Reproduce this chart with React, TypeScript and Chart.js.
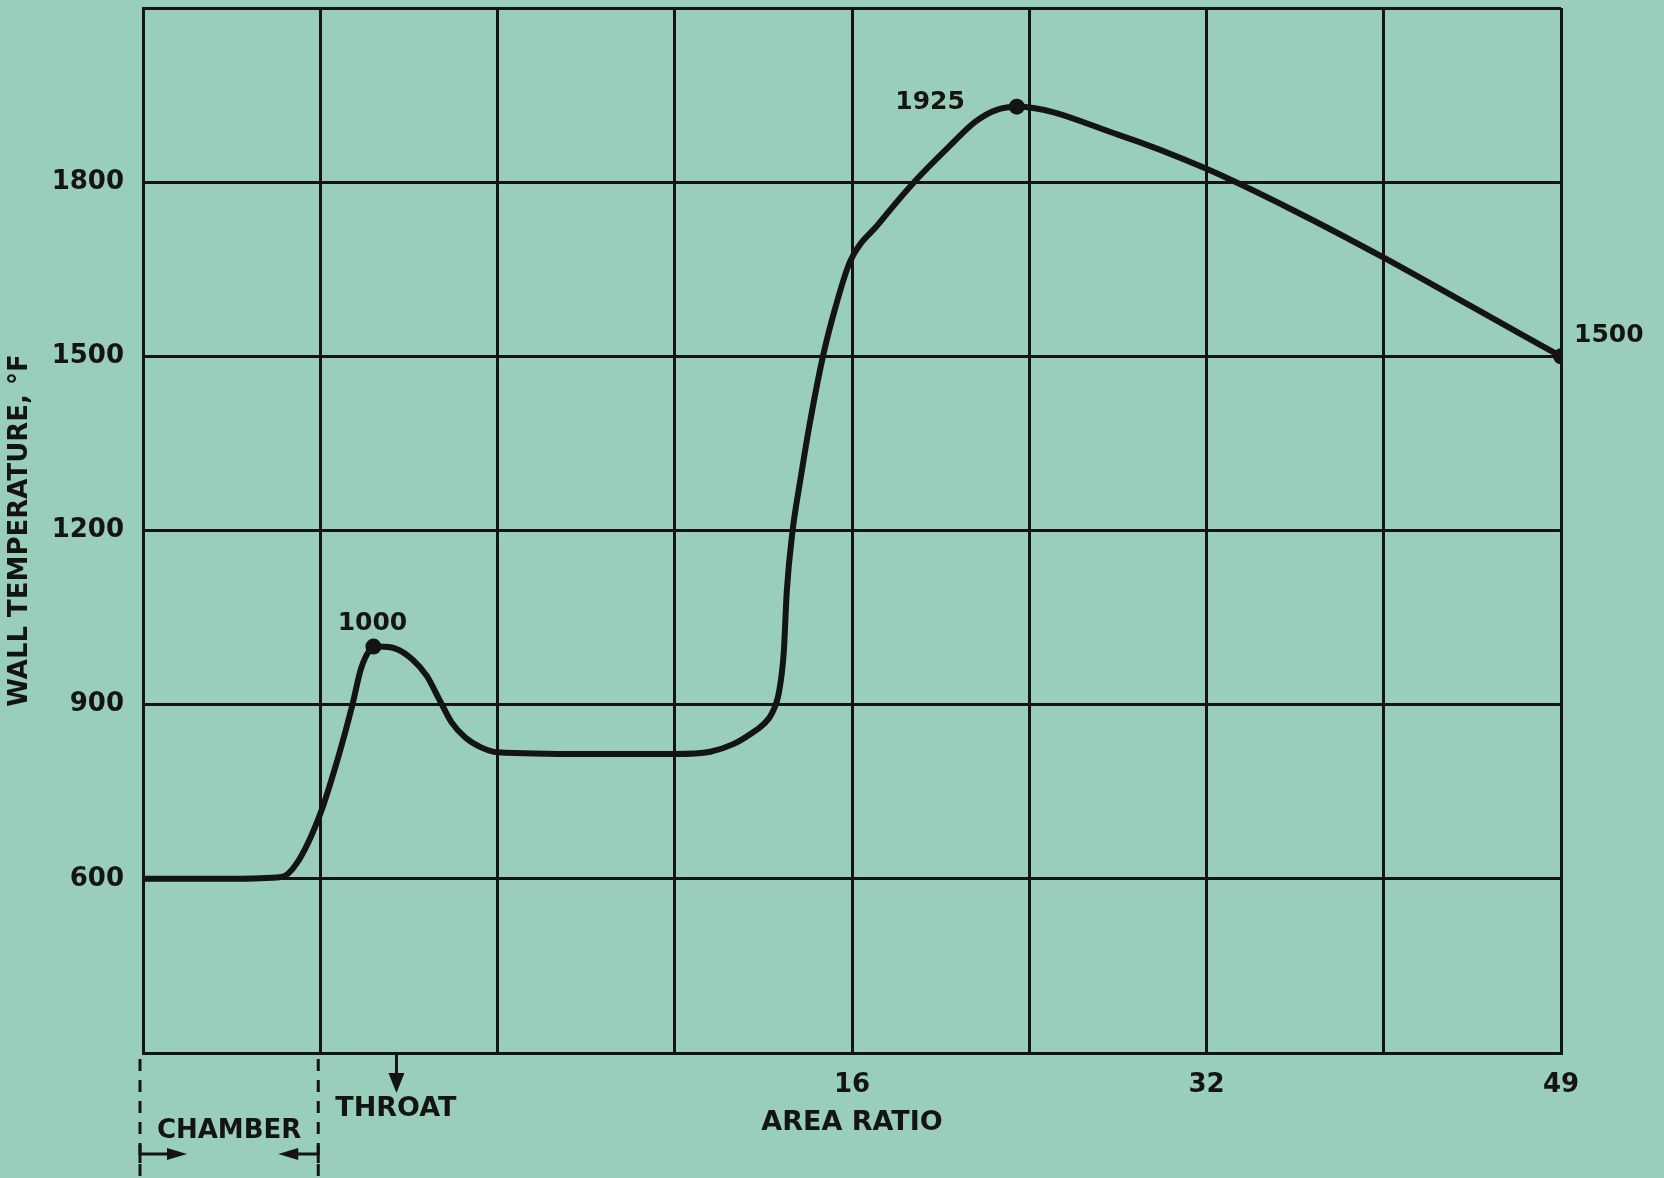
import React, { useEffect, useRef } from 'react';
import { Chart, registerables } from 'chart.js';

Chart.register(...registerables);

// Position along the (non-linear) area-ratio axis, in grid divisions (0..8)
const areaPos = [
  0, 0.5, 0.78, 0.87, 1.0, 1.1, 1.18, 1.23, 1.28, 1.33, 1.42, 1.52, 1.6, 1.67, 1.74, 1.82, 1.91, 2.0,
  2.5, 3.0, 3.2, 3.33, 3.43, 3.5, 3.55, 3.59, 3.615, 3.632, 3.665, 3.708, 3.758, 3.839, 3.909, 3.99,
  4.15, 4.35, 4.55, 4.7, 4.82, 4.93, 5.5, 6.0, 6.5, 7.0, 7.5, 8.0,
];
const wallTemp = [
  600, 600, 603, 628, 712, 808, 898, 962, 994, 1000, 997, 978, 950, 910, 870, 843, 826, 818,
  815, 815, 819, 832, 850, 866, 886, 925, 990, 1095, 1200, 1286, 1378, 1504, 1587, 1664,
  1728, 1800, 1862, 1905, 1925, 1930, 1882, 1823, 1750, 1670, 1585, 1500,
];

const markerPos = [1.3, 4.93, 8.0];
const markerTemp = [1000, 1930, 1500];
const markerLabels = ['1000', '1925', '1500'];

const xTickPos = [4, 6, 8];
const xTickLabels = ['16', '32', '49'];
const yTickLabels = [600, 900, 1200, 1500, 1800];

const throatPos = 1.43;
const chamberStart = 0;
const chamberEnd = 1;

const INK = '#141414';
const BG = '#98ceba';
const FONT = '"DejaVu Sans", sans-serif';

function arrowHead(ctx: CanvasRenderingContext2D, tipX: number, tipY: number, dx: number, dy: number, len: number, half: number) {
  const bx = tipX - dx * len;
  const by = tipY - dy * len;
  const px = -dy;
  const py = dx;
  ctx.beginPath();
  ctx.moveTo(tipX, tipY);
  ctx.lineTo(bx + px * half, by + py * half);
  ctx.lineTo(bx - px * half, by - py * half);
  ctx.closePath();
  ctx.fill();
}

const annotPlugin = {
  id: 'annot',
  afterDatasetsDraw(chart: any) {
    const { ctx, scales, chartArea } = chart;
    const x = scales.x;
    const y = scales.y;
    ctx.save();
    ctx.fillStyle = INK;
    ctx.strokeStyle = INK;

    // marker labels
    ctx.font = `bold 25px ${FONT}`;
    ctx.textBaseline = 'middle';
    const m0x = x.getPixelForValue(markerPos[0]);
    const m0y = y.getPixelForValue(markerTemp[0]);
    ctx.textAlign = 'center';
    ctx.fillText(markerLabels[0], m0x - 1, m0y - 23);
    const m1x = x.getPixelForValue(markerPos[1]);
    const m1y = y.getPixelForValue(markerTemp[1]);
    ctx.textAlign = 'right';
    ctx.fillText(markerLabels[1], m1x - 52, m1y - 4);
    const m2x = x.getPixelForValue(markerPos[2]);
    const m2y = y.getPixelForValue(markerTemp[2]);
    ctx.textAlign = 'left';
    ctx.fillText(markerLabels[2], m2x + 13, m2y - 21);

    // dashed chamber boundaries
    const bottom = chartArea.bottom;
    const cx0 = x.getPixelForValue(chamberStart) - 3;
    const cx1 = x.getPixelForValue(chamberEnd) - 2;
    ctx.lineWidth = 3;
    ctx.setLineDash([12, 9]);
    ctx.beginPath();
    ctx.moveTo(cx0, bottom + 6);
    ctx.lineTo(cx0, chart.height);
    ctx.moveTo(cx1, bottom + 6);
    ctx.lineTo(cx1, chart.height);
    ctx.stroke();
    ctx.setLineDash([]);

    // CHAMBER label and arrows
    ctx.font = `bold 26px ${FONT}`;
    ctx.textAlign = 'center';
    ctx.fillText('CHAMBER', (cx0 + cx1) / 2, bottom + 78);
    const ay = bottom + 101;
    ctx.lineWidth = 3;
    ctx.beginPath();
    ctx.moveTo(cx0, ay);
    ctx.lineTo(cx0 + 30, ay);
    ctx.moveTo(cx1, ay);
    ctx.lineTo(cx1 - 26, ay);
    ctx.stroke();
    arrowHead(ctx, cx0 + 47, ay, 1, 0, 20, 6);
    arrowHead(ctx, cx1 - 40, ay, -1, 0, 20, 6);
    ctx.beginPath();
    ctx.moveTo(cx0, ay - 9);
    ctx.lineTo(cx0, ay + 9);
    ctx.moveTo(cx1, ay - 9);
    ctx.lineTo(cx1, ay + 9);
    ctx.stroke();

    // THROAT arrow and label
    const tx = x.getPixelForValue(throatPos);
    ctx.beginPath();
    ctx.moveTo(tx, bottom);
    ctx.lineTo(tx, bottom + 24);
    ctx.stroke();
    arrowHead(ctx, tx, bottom + 40, 0, 1, 20, 8);
    ctx.font = `bold 27px ${FONT}`;
    ctx.textAlign = 'left';
    ctx.fillText('THROAT', x.getPixelForValue(chamberEnd) + 15, bottom + 56);

    ctx.restore();
  },
};

export default function App() {
  const ref = useRef<HTMLCanvasElement>(null);

  useEffect(() => {
    document.body.style.margin = '0';
    const canvas = ref.current;
    if (!canvas) return;
    const chart = new Chart(canvas, {
      type: 'line',
      data: {
        datasets: [
          {
            label: 'Wall temperature',
            data: areaPos.map((p, i) => ({ x: p, y: wallTemp[i] })),
            borderColor: INK,
            borderWidth: 6,
            pointRadius: 0,
            cubicInterpolationMode: 'monotone',
            borderCapStyle: 'round',
            borderJoinStyle: 'round',
            fill: false,
          },
          {
            label: 'Marked values',
            data: markerPos.map((p, i) => ({ x: p, y: markerTemp[i] })),
            showLine: false,
            pointRadius: 8,
            pointBackgroundColor: INK,
            pointBorderColor: INK,
            pointBorderWidth: 0,
          },
        ],
      },
      options: {
        responsive: false,
        animation: false,
        devicePixelRatio: 1,
        layout: { padding: { left: 0, top: 8, right: 103, bottom: 0 } },
        plugins: {
          legend: { display: false },
          tooltip: { enabled: false },
        },
        scales: {
          x: {
            type: 'linear',
            min: 0,
            max: 8,
            afterFit: (s: any) => {
              s.height = 125;
              s.paddingLeft = 0;
              s.paddingRight = 0;
            },
            afterBuildTicks: (s: any) => {
              s.ticks = [0, 1, 2, 3, 4, 5, 6, 7, 8].map((v) => ({ value: v }));
            },
            ticks: {
              autoSkip: false,
              maxRotation: 0,
              padding: 17,
              color: INK,
              font: { family: FONT, size: 26, weight: 'bold' },
              callback: (v: any) => {
                const i = xTickPos.indexOf(Number(v));
                return i >= 0 ? xTickLabels[i] : '';
              },
            },
            grid: { color: INK, lineWidth: 3, drawTicks: false },
            border: { display: true, color: INK, width: 3 },
            title: {
              display: true,
              text: 'AREA RATIO',
              color: INK,
              font: { family: FONT, size: 27, weight: 'bold' },
              padding: { top: 0, bottom: 39 },
            },
          },
          y: {
            type: 'linear',
            min: 300,
            max: 2100,
            afterFit: (s: any) => {
              s.width = 143;
              s.paddingTop = 0;
              s.paddingBottom = 0;
            },
            ticks: {
              stepSize: 300,
              padding: 19,
              color: INK,
              font: { family: FONT, size: 26, weight: 'bold' },
              callback: (v: any) => (yTickLabels.includes(Number(v)) ? String(v) : ''),
            },
            grid: { color: INK, lineWidth: 3, drawTicks: false },
            border: { display: true, color: INK, width: 3 },
            title: {
              display: true,
              text: 'WALL TEMPERATURE, °F',
              color: INK,
              font: { family: FONT, size: 26, weight: 'bold' },
              padding: { top: 5, bottom: 0 },
            },
          },
        },
      },
      plugins: [annotPlugin],
    } as any);
    return () => chart.destroy();
  }, []);

  return (
    <div style={{ position: 'absolute', left: 0, top: 0, width: 1664, height: 1178, background: BG }}>
      <canvas ref={ref} width={1664} height={1178} style={{ display: 'block' }} />
    </div>
  );
}
